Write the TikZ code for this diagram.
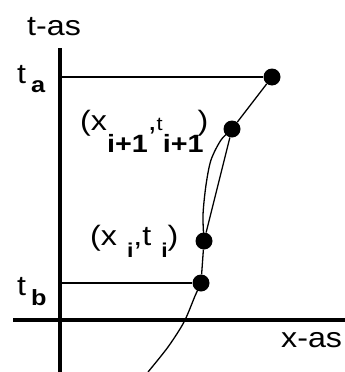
\documentclass[tikz,border=0pt]{standalone}
\usepackage{fontspec}
\setmainfont{Liberation Sans}[FakeStretch=1.15]
\usetikzlibrary{positioning}
\tikzset{
  ax line/.style={
    line width=4.5pt, draw=black
  },
  thin line/.style={
    line width=1.3pt, draw=black
  },
  pt dot/.style={
    circle, fill=black, minimum size=17pt, inner sep=0pt
  },
  ax label/.style={
    font=\fontsize{28}{32}\selectfont, inner sep=0pt, anchor=base west
  }
}
\newcommand{\lowsub}[3]{\raisebox{-#1}{\fontsize{#2}{#2}\selectfont\bfseries #3}}

\begin{document}
\begin{tikzpicture}[x=1pt, y=-1pt]
  \useasboundingbox (0,0) rectangle (345,372);

  \coordinate (ytop) at (60,48);
  \coordinate (ybot) at (60,372);
  \coordinate (xleft) at (13,320);
  \coordinate (xright) at (345,320);
  \draw [ax line] (ybot) -- (ytop);
  \draw [ax line] (xleft) -- (xright);

  \node (pa) [pt dot] at (272,77) {};
  \node (pn) [pt dot] at (232,129) {};
  \node (pi) [pt dot] at (204,241) {};
  \node (pb) [pt dot] at (201,283) {};
  \coordinate (ya) at (60,77);
  \coordinate (yb) at (60,283);
  \coordinate (cend) at (148,372);

  \draw [thin line] (ya) -- (pa);
  \draw [thin line] (yb) -- (pb);
  \draw [thin line] plot [smooth] coordinates {(cend) (168,347) (184,322) (195,296) (pb.center)};
  \draw [thin line] (pb) -- (pi);
  \draw [thin line] plot [smooth] coordinates {(pi.center) (203,215) (206,185) (211,160) (221,140) (pn.center)};
  \draw [thin line] (pn) -- (pa);
  \draw [thin line] (pi) -- (pn);

  \node (tas) [ax label] at (27,35) {t-as};
  \node (xas) [ax label] at (281,347) {x-as};
  \node (ta) [ax label] at (17,83) {t\hspace{5pt}\lowsub{9pt}{22}{a}};
  \node (tb) [ax label] at (17,295) {t\hspace{5pt}\lowsub{10pt}{22}{b}};
  \node (lbn) [ax label] at (80,130) {(x\lowsub{22pt}{25}{i+1},{\fontsize{19}{19}\selectfont t}\lowsub{22pt}{25}{i+1}\hspace{-6pt})};
  \node (lbi) [ax label] at (90,245) {(x\hspace{10pt}\lowsub{12pt}{20}{i},t\hspace{10pt}\lowsub{12pt}{20}{i})};
\end{tikzpicture}
\end{document}
